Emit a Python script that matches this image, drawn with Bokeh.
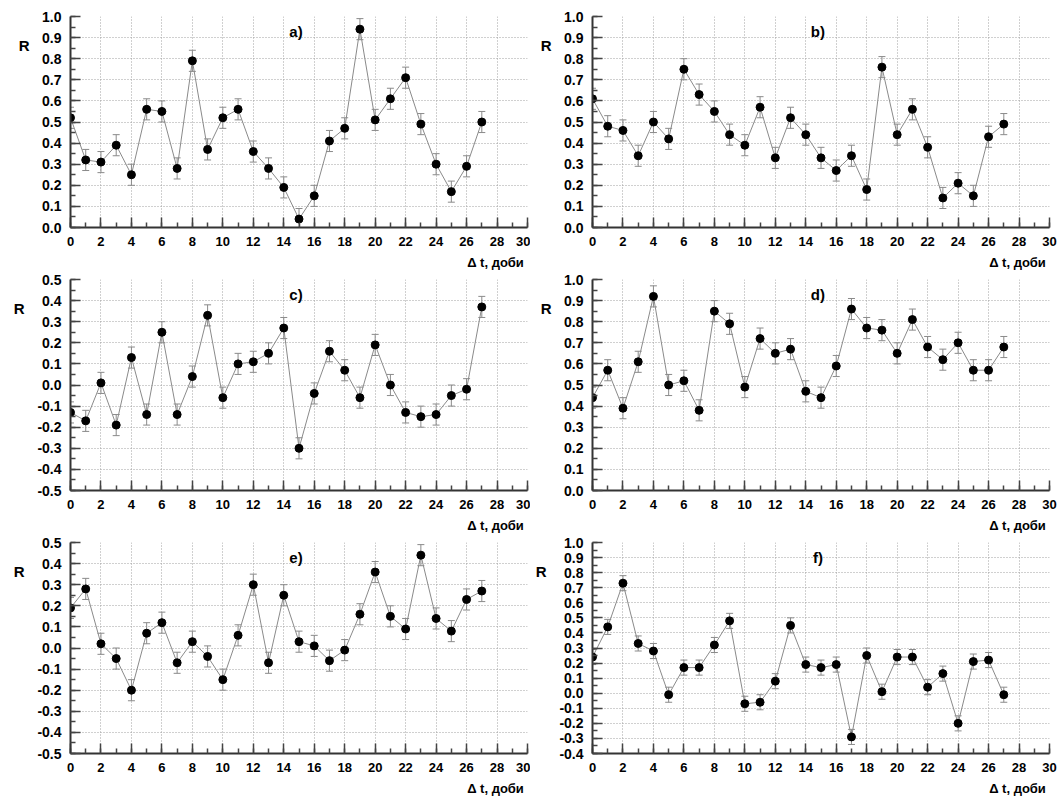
from bokeh.plotting import figure
from bokeh.layouts import row, column, Spacer
from bokeh.models import (ColumnDataSource, Range1d, SingleIntervalTicker, FixedTicker,
                          PrintfTickFormatter, Whisker, TeeHead, Label, LinearAxis)
from bokeh.embed import file_html
from bokeh.resources import INLINE

# ---- data ----
lag = list(range(28))
r_a = [0.52, 0.32, 0.31, 0.39, 0.25, 0.56, 0.55, 0.28, 0.79, 0.37, 0.52, 0.56, 0.36, 0.28,
       0.19, 0.04, 0.15, 0.41, 0.47, 0.94, 0.51, 0.61, 0.71, 0.49, 0.30, 0.17, 0.29, 0.50]
r_b = [0.61, 0.48, 0.46, 0.34, 0.50, 0.42, 0.75, 0.63, 0.55, 0.44, 0.39, 0.57, 0.33, 0.52,
       0.44, 0.33, 0.27, 0.34, 0.18, 0.76, 0.44, 0.56, 0.38, 0.14, 0.21, 0.15, 0.43, 0.49]
r_c = [-0.13, -0.17, 0.01, -0.19, 0.13, -0.14, 0.25, -0.14, 0.04, 0.33, -0.06, 0.10, 0.11, 0.15,
       0.27, -0.30, -0.04, 0.16, 0.07, -0.06, 0.19, 0.00, -0.13, -0.15, -0.14, -0.05, -0.02, 0.37]
r_d = [0.44, 0.57, 0.39, 0.61, 0.92, 0.50, 0.52, 0.38, 0.85, 0.79, 0.49, 0.72, 0.65, 0.67,
       0.47, 0.44, 0.59, 0.86, 0.77, 0.76, 0.65, 0.81, 0.68, 0.62, 0.70, 0.57, 0.57, 0.68]
r_e = [0.19, 0.28, 0.02, -0.05, -0.20, 0.07, 0.12, -0.07, 0.03, -0.04, -0.15, 0.06, 0.30, -0.07,
       0.25, 0.03, 0.01, -0.06, -0.01, 0.16, 0.36, 0.15, 0.09, 0.44, 0.14, 0.08, 0.23, 0.27]
r_f = [0.24, 0.44, 0.73, 0.33, 0.28, -0.01, 0.17, 0.17, 0.32, 0.48, -0.07, -0.06, 0.08, 0.45,
       0.19, 0.17, 0.19, -0.29, 0.25, 0.01, 0.24, 0.24, 0.04, 0.13, -0.20, 0.21, 0.22, -0.01]
r_err = 0.05

tags = ["a)", "b)", "c)", "d)", "e)", "f)"]
series = [r_a, r_b, r_c, r_d, r_e, r_f]
y_lims = [(0.0, 1.0), (0.0, 1.0), (-0.5, 0.5), (0.0, 1.0), (-0.5, 0.5), (-0.4, 1.0)]
x_label = "\u0394 t, доби"
x_label_at = 27.9
y_label = "R"

FONT = "Liberation Sans"
GRAY = "#8a8a8a"
AX = "#333333"

# row geometry: (height, border_top, frame_h, border_bottom)
rows = [(272, 16, 211, 45), (263, 7, 211, 45), (263, 7, 211, 45)]
# column geometry: (width, border_left, border_right)
cols = [(520, 60, 3), (530, 62, 11)]
LEFT_PAD = 10

Y_FS = 14
Y_STANDOFF = 9


def make_panel(i):
    tag, vals, (y0, y1) = tags[i], series[i], y_lims[i]
    h, bt, fh, bb = rows[i // 2]
    w, bl, br = cols[i % 2]
    p = figure(width=w, height=h, x_range=Range1d(0, 30), y_range=Range1d(y0, y1),
               output_backend="svg", toolbar_location=None,
               min_border_left=bl, min_border_right=br,
               min_border_top=bt, min_border_bottom=bb,
               outline_line_color=None, background_fill_color="white",
               border_fill_color="white")

    p.xaxis.ticker = SingleIntervalTicker(interval=2, num_minor_ticks=2)
    p.yaxis.ticker = SingleIntervalTicker(interval=0.1, num_minor_ticks=2)
    p.yaxis.formatter = PrintfTickFormatter(format="%.1f")
    for ax in (p.xaxis[0], p.yaxis[0]):
        ax.axis_line_color = AX
        ax.axis_line_width = 2
        ax.major_tick_in = 10
        ax.major_tick_out = 0
        ax.minor_tick_in = 5
        ax.minor_tick_out = 0
        ax.major_tick_line_color = "#444444"
        ax.major_tick_line_width = 1.5
        ax.minor_tick_line_color = "#444444"
        ax.minor_tick_line_width = 1.5
        ax.major_label_text_font = FONT
        ax.major_label_text_font_style = "bold"
        ax.major_label_text_color = "black"
    p.xaxis.major_label_text_font_size = "13px"
    p.xaxis.major_label_standoff = 9
    p.yaxis.major_label_text_font_size = "%dpx" % Y_FS
    p.yaxis.major_label_standoff = Y_STANDOFF

    # x-axis caption under the tick labels, at the right end
    xcap = LinearAxis(ticker=FixedTicker(ticks=[x_label_at]),
                      major_label_overrides={x_label_at: x_label},
                      axis_line_color=None, major_tick_line_color=None,
                      minor_tick_line_color=None, major_label_standoff=0,
                      major_label_text_font=FONT, major_label_text_font_size="13px",
                      major_label_text_font_style="bold", major_label_text_color="black")
    p.add_layout(xcap, "below")

    # "R" caption at the far left, near the top
    y_r = round(y1 - 29.0 / fh * (y1 - y0), 4)
    ycap = LinearAxis(ticker=FixedTicker(ticks=[y_r]),
                      major_label_overrides={y_r: y_label},
                      axis_line_color=None, major_tick_line_color=None,
                      minor_tick_line_color=None, major_label_standoff=4,
                      major_label_text_font=FONT, major_label_text_font_size="15px",
                      major_label_text_font_style="bold", major_label_text_color="black")
    p.add_layout(ycap, "left")

    for g in (p.xgrid[0], p.ygrid[0]):
        g.grid_line_color = "#a0a0a0"
        g.grid_line_dash = "1 2"
        g.grid_line_width = 1

    src = ColumnDataSource(dict(x=lag, y=vals,
                                upper=[v + r_err for v in vals],
                                lower=[v - r_err for v in vals]))
    p.line("x", "y", source=src, line_color=GRAY, line_width=1)
    p.add_layout(Whisker(source=src, base="x", upper="upper", lower="lower",
                         line_color=GRAY, line_width=1,
                         upper_head=TeeHead(size=7, line_color=GRAY, line_width=1),
                         lower_head=TeeHead(size=7, line_color=GRAY, line_width=1)))
    p.scatter("x", "y", source=src, size=8, fill_color="black", line_color="black")

    p.add_layout(Label(x=14.8, y=y1, y_offset=-15, text=tag, text_align="center",
                       text_baseline="middle", text_font=FONT, text_font_size="15px",
                       text_font_style="bold", text_color="black"))
    return p


panels = [make_panel(i) for i in range(6)]
layout = column(
    row(Spacer(width=LEFT_PAD, height=rows[0][0]), panels[0], panels[1]),
    row(Spacer(width=LEFT_PAD, height=rows[1][0]), panels[2], panels[3]),
    row(Spacer(width=LEFT_PAD, height=rows[2][0]), panels[4], panels[5]),
)

open("out.html", "w").write(file_html(layout, INLINE))
